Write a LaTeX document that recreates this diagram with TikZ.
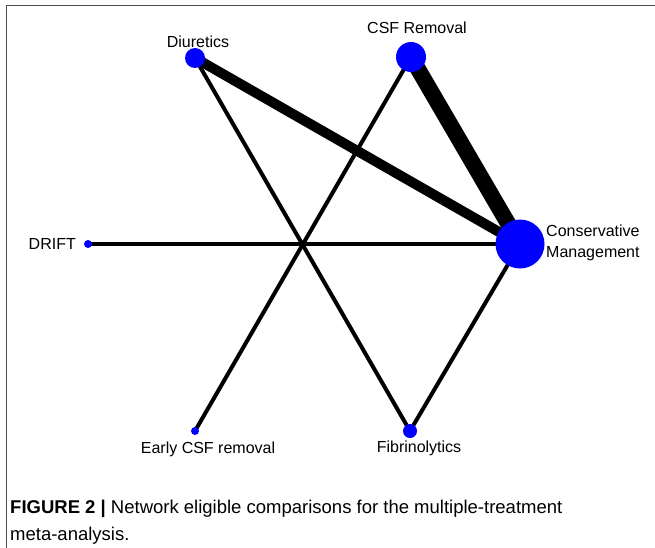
\documentclass[tikz,border=0pt]{standalone}
\usepackage{fontspec}
\setmainfont{Liberation Sans}
\usetikzlibrary{backgrounds}
\tikzset{
  trt/.style={circle, fill=blue, inner sep=0pt},
  lbl/.style={inner sep=0pt, font=\fontsize{16}{21}\selectfont},
  edge/.style={line width=4pt},
}
\begin{document}
\begin{tikzpicture}[x=1pt,y=-1pt]
\useasboundingbox (0,0) rectangle (655,548);
\draw[black!70, line width=1pt] (6,548) -- (6,6) -- (655,6);

% treatments
\node[trt, minimum size=20pt] (diur) at (195,58){};
\node[trt, minimum size=30pt] (csf) at (411,57){};
\node[trt, minimum size=8pt] (drift) at (88,244){};
\node[trt, minimum size=49pt] (cons) at (520,244){};
\node[trt, minimum size=8pt] (early) at (195,431){};
\node[trt, minimum size=14pt] (fibr) at (410,431){};

\node[lbl] (tdiur) at (198,42){Diuretics};
\node[lbl] (tcsf) at (417,28){CSF Removal};
\node[lbl, anchor=east] (tdrift) at (76,244){DRIFT};
\node[lbl, anchor=west, align=left] (tcons) at (546,243){Conservative\\Management};
\node[lbl] (tearly) at (208,449){Early CSF removal};
\node[lbl] (tfibr) at (419,448){Fibrinolytics};

% comparisons
\begin{scope}[on background layer]
\draw[edge, line width=10pt] (diur.center) -- (cons.center);
\draw[edge, line width=16pt] (csf.center) -- (cons.center);
\draw[edge] (diur.center) -- (fibr.center);
\draw[edge] (csf.center) -- (early.center);
\draw[edge] (drift.center) -- (cons.center);
\draw[edge] (fibr.center) -- (cons.center);
\end{scope}

\node[anchor=north west, inner sep=0pt, align=left, font=\fontsize{18.5}{27}\selectfont]
  (caption) at (10,500){\textbf{FIGURE 2 |} Network eligible comparisons for the multiple-treatment\\meta-analysis.};

\end{tikzpicture}
\end{document}
